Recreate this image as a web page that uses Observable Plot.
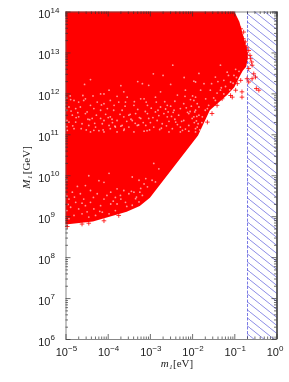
<!DOCTYPE html>
<html><head><meta charset="utf-8">
<script src="https://cdn.jsdelivr.net/npm/d3@7"></script>
<script src="https://cdn.jsdelivr.net/npm/@observablehq/plot@0.6"></script>
<style>html,body{margin:0;padding:0;background:#fff}svg{display:block;filter:blur(0.3px)}</style>
</head><body><div id="chart"></div>
<script>
// boundary of the densely filled region, log10 values
const edgeLogM1 = [-5, -4.35, -3.55, -3.24, -3, -1.86, -1.58, -1.17, -1, -0.88, -0.8, -0.72, -0.68];
const edgeLow   = [8.8, 8.87, 9.11, 9.25, 9.45, 10.97, 11.59, 11.96, 12.15, 12.4, 12.55, 12.65, 12.85];
const edgeHigh  = [14, 14, 14, 14, 14, 14, 14, 14, 14, 13.75, 13.45, 13.15, 13.0];

// isolated red points along the fringe
const fringeX = [-0.79,-0.75,-0.67,-0.63,-0.59,-0.67,-0.55,-0.59,-0.51,-0.71,-0.67,-0.86,-1.10,-1.06,-0.83,-0.83,-0.49,-0.43,-0.94,-0.98,-1.22,-1.30,-1.42,-1.54,-1.65,-0.86,-0.80,-0.72,-0.64,-0.60,-4.62,-4.97,-4.46,-4.10,-3.75];
const fringeY = [13.51,13.27,13.06,12.86,12.70,12.62,12.49,12.37,12.41,12.37,12.29,12.33,11.96,11.92,12.05,11.92,12.13,12.09,12.25,12.09,12.09,11.88,11.72,11.52,11.31,13.59,13.35,13.14,12.94,12.78,8.82,8.76,8.84,8.90,9.03];

// gaps between points inside the filled region
const gapX = [-4.89,-4.81,-4.54,-4.42,-4.56,-4.18,-4.10,-3.98,-3.79,-3.63,-3.55,-4.70,-4.58,-4.42,-4.26,-4.10,-3.95,-3.75,-3.59,-4.93,-4.77,-4.66,-4.50,-4.34,-4.18,-4.02,-3.87,-3.67,-4.85,-4.70,-4.54,-4.38,-4.18,-4.10,-3.95,-3.79,-3.63,-3.51,-4.93,-4.77,-4.62,-4.46,-4.30,-4.14,-3.98,-3.83,-3.67,-3.51,-4.97,-4.81,-4.42,-4.34,-4.10,-3.95,-3.79,-3.63,
-2.47,-2.93,-3.19,-2.52,-3.04,-1.97,-2.17,-2.76,-3.23,-3.15,-2.88,-2.36,-2.05,-1.97,-2.60,-2.52,-3.07,-2.21,-3.39,-2.76,-1.89,-3.35,-3.07,-2.88,-2.68,-2.44,-2.29,-2.09,-1.93,-3.43,-3.23,-3.04,-2.84,-2.60,-2.40,-2.21,-2.01,-1.85,-3.31,-3.11,-2.92,-2.72,-2.48,-2.29,-2.09,-1.93,-3.39,-3.15,-2.56,-2.29,-2.09,-1.93,
-1.34,-1.18,-1.02,-1.46,-1.73,-1.93,-1.26,-1.10,-1.58,-1.81,-1.34,-1.93,-1.69,-1.46,-1.26,-1.85,-1.65,-1.97,-1.77,-1.89,
-4.46,-3.98,-4.22,-4.54,-4.73,-4.10,-4.85,-4.66,-4.42,-4.26,-3.94,-3.79,-3.63,-4.93,-4.77,-4.58,-4.42,-4.10,-3.83,-3.71,-3.51,-4.89,-4.70,-4.54,-4.34,-4.18,-3.94,-3.79,-3.59,-4.81,-4.62,-4.46,-4.14,-3.98,-3.83,-4.93,-4.30,
-2.92,-2.80,-3.43,-3.27,-3.11,-2.96,-2.88,-3.39,-3.23,-3.07,-3.35,-3.19,-3.43,-3.27,-3.33,
-3.30,-3.12,-2.98,-2.80,-2.64,-2.50,-2.33,-2.15,-2.03,-1.90,
-3.36,-3.17,-3.00,-2.78,-2.56,-2.36,-2.17,-1.96,-1.87,
-4.88,-4.72,-4.48,-4.28,-4.06,-3.90,-3.72,-3.56,
-4.98,-4.98,-4.98,-4.98,-4.98,-4.98,-4.98,
-1.70,-1.62,-1.50,-1.42,-1.32,-1.22,-1.12,-1.04,-0.96,-0.90,-1.55,-1.40,-1.15,-0.98,-1.78,-1.72,
-4.95,-4.80,-4.62,-4.50,-4.35,-4.20,-4.03,-3.88,-3.70,-3.56,-3.45,-3.25,-3.15,
-3.7,-3.3,-2.7,-2.2,-1.85,
-4.84,-4.64,-4.44,-4.22,-4.00,-3.84,-3.62,-3.46,-3.28,-3.08,-2.94,-2.74,-2.58,-2.42,-2.24,-2.06,-1.91,-1.83,
-4.76,-4.52,-4.32,-4.12,-3.91,-3.70,-3.48,-3.26,-3.02,-2.82,-2.62,-2.46,-2.26,-2.12,-1.95,
-4.90,-4.60,-4.36,-4.16,-3.86,-3.60,-3.38,-3.10,-2.86,-2.66,-2.42,-2.18,-2.00];
const gapY = [11.86,11.84,11.88,12.35,12.23,12.0,12.0,12.09,11.94,12.05,11.92,11.80,11.84,11.72,11.80,11.76,11.84,11.80,11.80,11.68,11.64,11.68,11.56,11.64,11.60,11.64,11.60,11.60,11.48,11.44,11.52,11.40,11.40,11.35,11.44,11.35,11.44,11.48,11.31,11.31,11.27,11.23,11.19,11.27,11.23,11.19,11.23,11.19,11.11,11.15,11.07,11.11,11.07,11.15,11.07,11.11,
12.70,12.49,12.25,12.23,12.21,12.31,12.09,12.05,11.88,11.88,11.92,11.97,11.86,11.84,11.72,11.70,11.72,11.76,11.72,11.68,11.76,11.52,11.52,11.56,11.52,11.60,11.64,11.52,11.60,11.35,11.40,11.40,11.35,11.44,11.31,11.35,11.40,11.48,11.23,11.23,11.19,11.27,11.15,11.19,11.23,11.15,11.07,11.09,11.07,11.07,11.09,11.07,
12.70,12.53,12.45,12.41,12.25,12.29,12.33,12.29,12.09,12.09,12.09,11.92,11.88,11.84,12.0,11.68,11.64,11.44,11.44,11.19,
10.0,10.06,9.88,9.76,9.74,9.84,9.60,9.56,9.64,9.56,9.60,9.68,9.64,9.43,9.35,9.43,9.35,9.43,9.47,9.52,9.56,9.23,9.19,9.27,9.19,9.27,9.31,9.31,9.35,9.03,9.07,8.99,9.11,9.07,9.15,8.95,9.03,
10.30,10.17,9.97,9.89,9.93,9.89,9.85,9.60,9.69,9.73,9.44,9.52,9.28,9.36,9.48,
11.62,11.57,11.65,11.47,11.63,11.45,11.48,11.66,11.70,11.45,
11.28,11.30,11.30,11.13,11.33,11.25,11.14,11.30,11.27,
11.58,11.54,11.38,11.48,11.50,11.30,11.50,11.33,
11.9,11.6,11.35,11.2,9.9,9.5,9.15,
11.60,11.72,11.90,12.02,12.15,12.18,12.10,12.26,12.40,12.55,12.25,12.30,12.45,12.60,11.30,11.12,
9.30,9.48,9.33,9.12,9.47,9.13,9.52,9.38,9.43,9.25,9.62,9.60,9.80,
12.2,12.3,12.45,12.4,12.5,
11.22,11.15,11.37,11.10,11.42,11.21,11.14,11.38,11.24,11.10,11.42,11.16,11.56,11.38,11.11,11.57,11.34,11.12,
11.42,11.12,11.28,11.12,11.38,11.21,11.50,11.42,11.12,11.60,11.22,11.55,11.33,11.55,11.56,
11.95,11.96,11.95,11.73,11.72,11.70,11.81,11.80,11.80,11.81,11.82,11.94,11.95];

// axes
const xDecades = [-5,-4,-3,-2,-1,0];
const yDecades = [6,7,8,9,10,11,12,13,14];
const minorSteps = [2,3,4,5,6,7,8,9];
const excludedFrom = 0.2;
const excludedTo = 1;

const W = 289, H = 382, mL = 65.5, mR = 12.5, mT = 11.5, mB = 43;
const plotW = W - mL - mR, plotH = H - mT - mB;

const pow = v => Math.pow(10, v);
const edge = edgeLogM1.map((m, i) => ({m: pow(m), lo: pow(edgeLow[i]), hi: pow(edgeHigh[i])}));
const fringe = fringeX.map((m, i) => ({m: pow(m), M: pow(fringeY[i])}));
const gaps = gapX.map((m, i) => ({m: pow(m), M: pow(gapY[i])}));
const xMajor = xDecades.map(pow);
const yMajor = yDecades.map(pow);
const xMinor = xDecades.slice(0, -1).flatMap(d => minorSteps.map(s => s * pow(d)));
const yMinor = yDecades.slice(0, -1).flatMap(d => minorSteps.map(s => s * pow(d)));

const tickStyle = {stroke: "#333", strokeWidth: 0.7};
const labelFont = {fontFamily: "Liberation Sans, Arial, sans-serif", fill: "#222"};
const titleFont = {fontFamily: "Liberation Serif, serif", fontSize: 11, fill: "#222"};

const hatchDefs = () => {
  const ns = "http://www.w3.org/2000/svg";
  const defs = document.createElementNS(ns, "defs");
  defs.innerHTML = '<pattern id="hatch" patternUnits="userSpaceOnUse" width="10" height="8">' +
    '<path d="M-1,-0.8 L11,8.8" stroke="#6f6fe0" stroke-width="0.8" fill="none"/></pattern>';
  return defs;
};

const chart = Plot.plot({
  width: W, height: H,
  marginLeft: mL, marginRight: mR, marginTop: mT, marginBottom: mB,
  style: {background: "#fff", overflow: "visible"},
  x: {type: "log", domain: [1e-5, 1], axis: null},
  y: {type: "log", domain: [1e6, 1e14], axis: null},
  marks: [
    hatchDefs,
    Plot.rect([0], {x1: excludedFrom, x2: excludedTo, y1: 1e6, y2: 1e14, fill: "url(#hatch)"}),
    Plot.ruleX([excludedFrom], {stroke: "#5a5ae0", strokeWidth: 0.8, strokeDasharray: "3,1.5"}),
    Plot.areaY(edge, {x: "m", y1: "lo", y2: "hi", fill: "#ff0000"}),
    Plot.dot(fringe, {x: "m", y: "M", symbol: "plus", r: 1.6, stroke: "#ff0000", strokeWidth: 0.8}),
    Plot.dot(gaps, {x: "m", y: "M", r: 0.9, fill: "#fff", fillOpacity: 0.6}),
    // frame
    Plot.frame({stroke: "#555", strokeWidth: 0.7}),
    Plot.ruleX([1], {stroke: "#000", strokeWidth: 1}),
    // ticks, pointing inward on all four sides
    Plot.tickX(xMajor, {x: d => d, insetTop: plotH - 5, ...tickStyle}),
    Plot.tickX(xMinor, {x: d => d, insetTop: plotH - 2.5, ...tickStyle}),
    Plot.tickX(xMajor, {x: d => d, insetBottom: plotH - 5, ...tickStyle}),
    Plot.tickX(xMinor, {x: d => d, insetBottom: plotH - 2.5, ...tickStyle}),
    Plot.tickY(yMajor, {y: d => d, insetRight: plotW - 5, ...tickStyle}),
    Plot.tickY(yMinor, {y: d => d, insetRight: plotW - 2.5, ...tickStyle}),
    Plot.tickY(yMajor, {y: d => d, insetLeft: plotW - 5, ...tickStyle}),
    Plot.tickY(yMinor, {y: d => d, insetLeft: plotW - 2.5, ...tickStyle}),
    // x tick labels
    Plot.text(xDecades, {x: pow, frameAnchor: "bottom", text: () => "10", textAnchor: "end", dx: 2, dy: 16, fontSize: 11, ...labelFont}),
    Plot.text(xDecades, {x: pow, frameAnchor: "bottom", text: d => String(d).replace("-", "\u2212"), textAnchor: "start", dx: 2, dy: 11, fontSize: 8, ...labelFont}),
    // y tick labels
    Plot.text(yDecades, {y: pow, frameAnchor: "left", text: () => "10", textAnchor: "end", dx: -15.5, dy: 2.5, fontSize: 11, ...labelFont}),
    Plot.text(yDecades, {y: pow, frameAnchor: "left", text: d => String(d), textAnchor: "start", dx: -15.5, dy: -2, fontSize: 8, ...labelFont}),
    // axis titles
    Plot.text(["m\u2081"], {frameAnchor: "bottom", text: d => d, textAnchor: "end", dx: 1, dy: 27, fontStyle: "italic", ...titleFont}),
    Plot.text(["[eV]"], {frameAnchor: "bottom", text: d => d, textAnchor: "start", dx: 1.5, dy: 27, ...titleFont}),
    Plot.text(["M\u2081"], {frameAnchor: "left", text: d => d, rotate: -90, textAnchor: "end", dx: -39.5, dy: 0, fontStyle: "italic", ...titleFont}),
    Plot.text(["[GeV]"], {frameAnchor: "left", text: d => d, rotate: -90, textAnchor: "start", dx: -39.5, dy: -1.5, ...titleFont})
  ]
});
document.getElementById("chart").append(chart);
</script>
</body></html>
